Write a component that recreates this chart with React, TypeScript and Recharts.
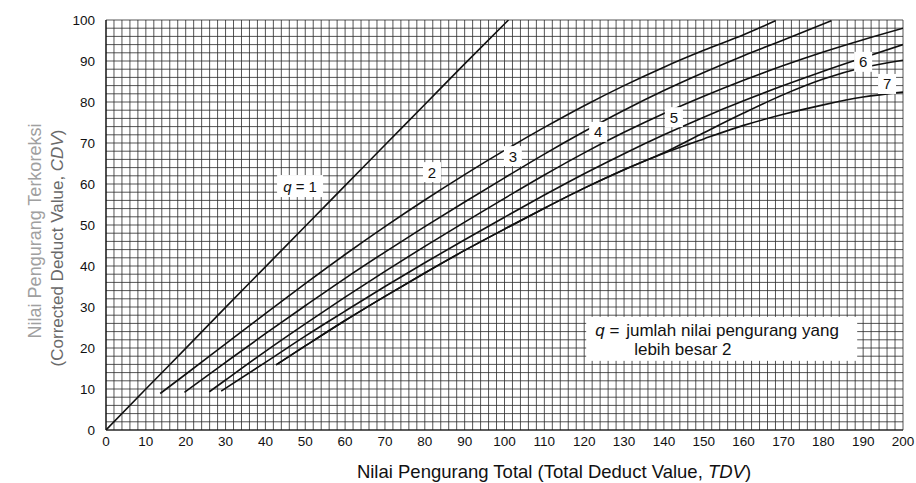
import React from "react";
import { LineChart, Line, XAxis, YAxis, CartesianGrid, ReferenceDot } from "recharts";

// tick labels (every 10) and fine grid steps (every 2)
const tdvLabels = [0, 10, 20, 30, 40, 50, 60, 70, 80, 90, 100, 110, 120, 130, 140, 150, 160, 170, 180, 190, 200];
const cdvLabels = [0, 10, 20, 30, 40, 50, 60, 70, 80, 90, 100];
const tdvGrid = Array.from({ length: 101 }, (_, i) => i * 2);
const cdvGrid = Array.from({ length: 51 }, (_, i) => i * 2);

// q = 1 .. 7 curves
const q1Tdv = [0, 10, 20, 30, 40, 50, 60, 70, 80, 90, 101];
const q1Cdv = [0, 10, 19.9, 29.9, 39.8, 49.7, 59.6, 69.5, 79.4, 89.3, 100];

const q2Tdv = [13.6, 20, 30, 40, 50, 60, 70, 80, 90, 100, 110, 120, 130, 140, 150, 160, 168];
const q2Cdv = [8.9, 13.6, 21, 28.4, 35.7, 42.8, 49.6, 56.1, 62.3, 68.2, 73.8, 79.1, 84, 88.5, 92.6, 96.4, 99.8];

const q3Tdv = [19.7, 30, 40, 50, 60, 70, 80, 90, 100, 110, 120, 130, 140, 150, 160, 170, 182];
const q3Cdv = [9.2, 16.5, 23.5, 30.3, 37, 43.4, 49.6, 55.6, 61.5, 67.3, 72.8, 78, 82.8, 87.2, 91.3, 95.1, 99.8];

const q4Tdv = [25.9, 30, 40, 50, 60, 70, 80, 90, 100, 110, 120, 130, 140, 150, 160, 170, 180, 190, 200];
const q4Cdv = [9.3, 12.2, 19.2, 25.9, 32.4, 38.7, 44.8, 50.7, 56.5, 62.2, 67.6, 72.6, 77.2, 81.4, 85.3, 88.9, 92.2, 95.2, 98];

const q5Tdv = [28.9, 40, 50, 60, 70, 80, 90, 100, 110, 120, 130, 140, 150, 160, 170, 180, 190, 200];
const q5Cdv = [9.5, 16.5, 22.9, 29, 35, 40.8, 46.4, 51.9, 57.3, 62.5, 67.4, 72, 76.3, 80.3, 84, 87.5, 90.8, 94];

const q6Tdv = [42.7, 50, 60, 70, 80, 90, 100, 110, 120, 130, 140, 150, 160, 170, 180, 190, 200];
const q6Cdv = [15.9, 20.5, 26.7, 32.6, 38.3, 43.8, 49, 54.1, 59, 63.5, 67.6, 72.5, 77.3, 81.8, 85.6, 88.4, 90.2];

const q7Tdv = [42.7, 50, 60, 70, 80, 90, 100, 110, 120, 130, 140, 150, 160, 170, 180, 190, 200];
const q7Cdv = [15.9, 20.5, 26.7, 32.6, 38.3, 43.8, 49, 54.1, 59, 63.5, 67.5, 71, 74.3, 77, 79.3, 81.2, 82.4];

// curve labels
const curveLabels = ["2", "3", "4", "5", "6", "7"];
const curveLabelTdv = [81.8, 102.1, 123.5, 142.5, 190, 196];
const curveLabelCdv = [62.9, 66.8, 72.7, 76.3, 89.8, 84.4];

const toPoints = (xs: number[], ys: number[]) => xs.map((x, i) => ({ tdv: x, cdv: ys[i] }));

const curves = [
  { name: "q1", data: toPoints(q1Tdv, q1Cdv) },
  { name: "q2", data: toPoints(q2Tdv, q2Cdv) },
  { name: "q3", data: toPoints(q3Tdv, q3Cdv) },
  { name: "q4", data: toPoints(q4Tdv, q4Cdv) },
  { name: "q5", data: toPoints(q5Tdv, q5Cdv) },
  { name: "q6", data: toPoints(q6Tdv, q6Cdv) },
  { name: "q7", data: toPoints(q7Tdv, q7Cdv) },
];

const FONT = "'Liberation Sans', Arial, sans-serif";

function XTick({ x, y, payload }: any) {
  if (!tdvLabels.includes(payload.value)) return <g />;
  return (
    <text x={x} y={y + 12} textAnchor="middle" fontSize={13.5} fill="#111" fontFamily={FONT}>
      {payload.value}
    </text>
  );
}

function YTick({ x, y, payload }: any) {
  if (!cdvLabels.includes(payload.value)) return <g />;
  return (
    <text x={x} y={y + 5} textAnchor="end" fontSize={13.5} fill="#111" fontFamily={FONT}>
      {payload.value}
    </text>
  );
}

function DigitLabel({ cx, cy, text }: any) {
  return (
    <g>
      <rect x={cx - 9} y={cy - 10} width={18} height={20} fill="#fff" />
      <text x={cx} y={cy + 5.5} textAnchor="middle" fontSize={15} fill="#111" fontFamily={FONT}>
        {text}
      </text>
    </g>
  );
}

function Q1Label({ cx, cy }: any) {
  return (
    <g>
      <rect x={cx - 23} y={cy - 11} width={46} height={22} fill="#fff" />
      <text x={cx} y={cy + 5.5} textAnchor="middle" fontSize={15} fill="#111" fontFamily={FONT}>
        <tspan fontStyle="italic">q</tspan> = 1
      </text>
    </g>
  );
}

function NoteBox({ cx, cy }: any) {
  return (
    <g>
      <rect x={cx} y={cy} width={271} height={44} fill="#fff" />
      <text x={cx + 9} y={cy + 19} fontSize={17} fill="#111" fontFamily={FONT}>
        <tspan fontStyle="italic">q</tspan> =
      </text>
      <text x={cx + 40} y={cy + 19} fontSize={17} fill="#111" fontFamily={FONT}>
        jumlah nilai pengurang yang
      </text>
      <text x={cx + 48} y={cy + 38} fontSize={17} fill="#111" fontFamily={FONT}>
        lebih besar 2
      </text>
    </g>
  );
}

export default function App() {
  return (
    <div style={{ position: "relative", width: 916, height: 483, background: "#fff" }}>
      <style>{"body{margin:0;background:#fff}"}</style>
      <LineChart
        width={916}
        height={483}
        margin={{ top: 20, right: 13, bottom: 23, left: 0 }}
      >
        <CartesianGrid stroke="#2a2a2a" strokeOpacity={0.8} strokeWidth={1} />
        <XAxis
          type="number"
          dataKey="tdv"
          domain={[0, 200]}
          ticks={tdvGrid}
          interval={0}
          tick={<XTick />}
          tickLine={false}
          tickSize={0}
          tickMargin={4}
          axisLine={{ stroke: "#111", strokeWidth: 1.2 }}
          allowDataOverflow
        />
        <YAxis
          type="number"
          dataKey="cdv"
          domain={[0, 100]}
          ticks={cdvGrid}
          interval={0}
          width={106}
          tick={<YTick />}
          tickLine={false}
          tickSize={0}
          tickMargin={11}
          axisLine={{ stroke: "#111", strokeWidth: 1.2 }}
          allowDataOverflow
        />
        {curves.map((c) => (
          <Line
            key={c.name}
            data={c.data}
            dataKey="cdv"
            type="monotone"
            stroke="#111"
            strokeWidth={1.6}
            dot={false}
            activeDot={false}
            isAnimationActive={false}
          />
        ))}
        <ReferenceDot x={48.7} y={59.5} r={0} shape={(p: any) => <Q1Label cx={p.cx} cy={p.cy} />} />
        {curveLabels.map((t, i) => (
          <ReferenceDot
            key={t}
            x={curveLabelTdv[i]}
            y={curveLabelCdv[i]}
            r={0}
            shape={(p: any) => <DigitLabel cx={p.cx} cy={p.cy} text={t} />}
          />
        ))}
        <ReferenceDot x={120.5} y={27.6} r={0} shape={(p: any) => <NoteBox cx={p.cx} cy={p.cy} />} />
      </LineChart>
      <svg
        width={916}
        height={483}
        style={{ position: "absolute", left: 0, top: 0, pointerEvents: "none" }}
      >
        <text x={554} y={478} textAnchor="middle" fontSize={18.5} fill="#111" fontFamily={FONT}>
          Nilai Pengurang Total (Total Deduct Value, <tspan fontStyle="italic">TDV</tspan>)
        </text>
        <text
          transform="translate(41,231) rotate(-90)"
          textAnchor="middle"
          fontSize={18}
          fill="#a0a0a0"
          fontFamily={FONT}
        >
          Nilai Pengurang Terkoreksi
        </text>
        <text
          transform="translate(63,248) rotate(-90)"
          textAnchor="middle"
          fontSize={17}
          fill="#6a6a6a"
          fontFamily={FONT}
        >
          (Corrected Deduct Value, <tspan fontStyle="italic">CDV</tspan>)
        </text>
      </svg>
    </div>
  );
}
